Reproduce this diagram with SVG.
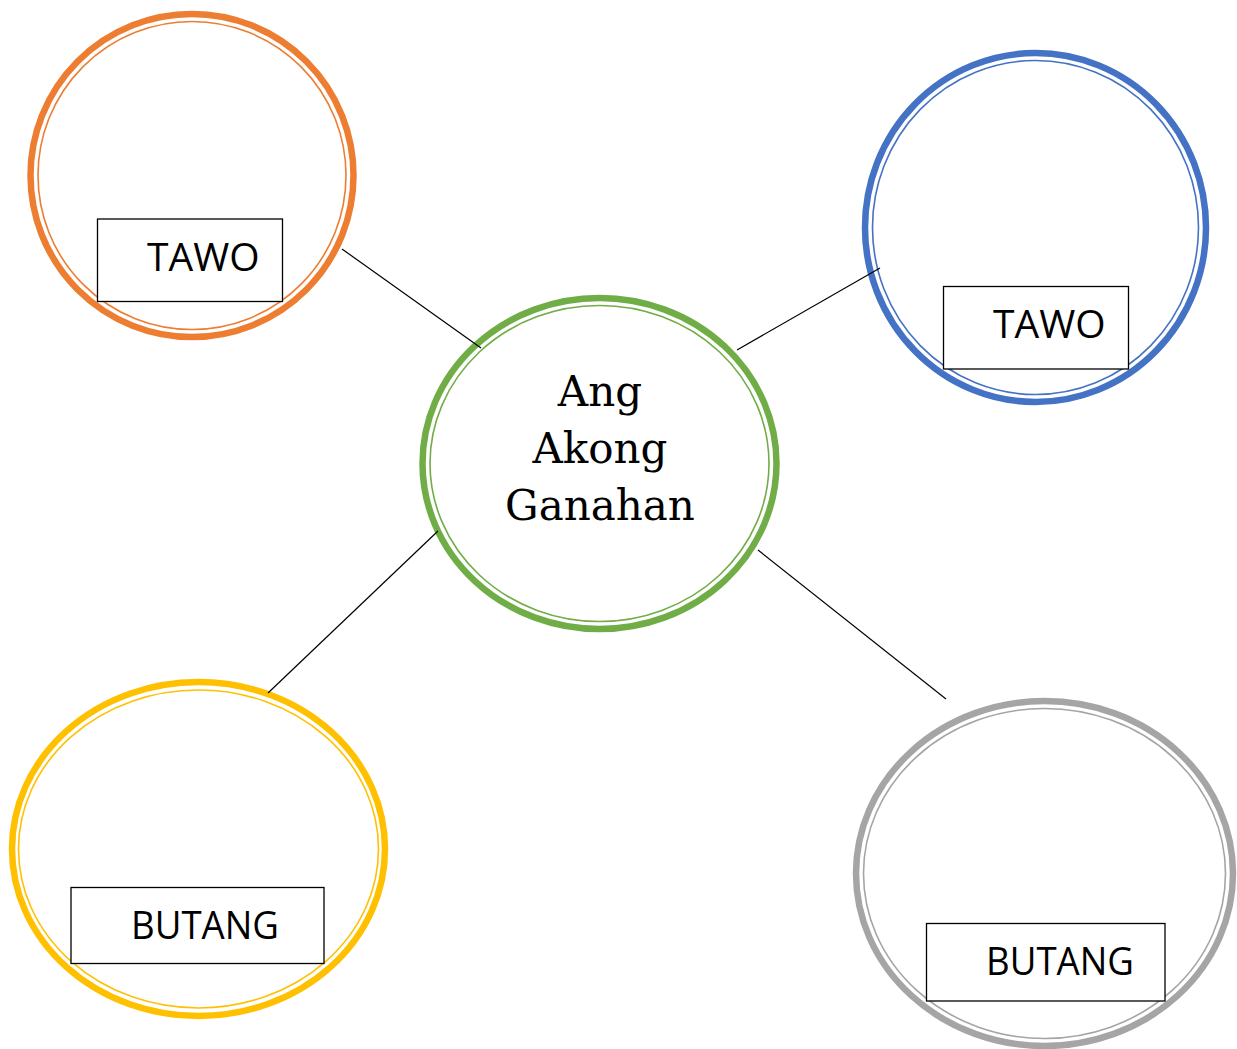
<svg xmlns="http://www.w3.org/2000/svg" width="1237" height="1049" viewBox="0 0 1237 1049">
<style>
.thick{fill:#fff;stroke-width:6.5}
.thin{fill:none;stroke-width:1.6}
.box{fill:#fff;stroke:#000;stroke-width:1.3}
.lbl{font-family:"Open Sans","Noto Sans",sans-serif;font-size:39px;fill:#000}
.ctr{font-family:"DejaVu Serif",serif;font-size:42px;fill:#000;text-anchor:middle}
.conn line{stroke:#000;stroke-width:1.2}
</style>
<rect width="1237" height="1049" fill="#fff"/>
<g id="orange">
<ellipse class="thick" stroke="#ED7D31" cx="192" cy="175.5" rx="161.5" ry="161.5"/>
<ellipse class="thin" stroke="#ED7D31" cx="192" cy="175.5" rx="154" ry="154"/>
<rect class="box" x="97.5" y="219" width="185" height="82.5"/>
<text class="lbl" x="147" y="271">TAWO</text>
</g>
<g id="blue">
<ellipse class="thick" stroke="#4472C4" cx="1035.5" cy="227.5" rx="170.5" ry="174.5"/>
<ellipse class="thin" stroke="#4472C4" cx="1035.5" cy="227.5" rx="163" ry="167"/>
<rect class="box" x="943.5" y="286.5" width="185" height="82.5"/>
<text class="lbl" x="993" y="338">TAWO</text>
</g>
<g id="center">
<ellipse class="thick" stroke="#70AD47" cx="599.5" cy="463.5" rx="177" ry="165.5"/>
<ellipse class="thin" stroke="#70AD47" cx="599.5" cy="463.5" rx="169.5" ry="158"/>
<text class="ctr" x="600" y="406">Ang</text>
<text class="ctr" x="600" y="463">Akong</text>
<text class="ctr" x="600" y="520">Ganahan</text>
</g>
<g id="yellow">
<ellipse class="thick" stroke="#FFC000" cx="198.5" cy="849" rx="186.5" ry="167"/>
<ellipse class="thin" stroke="#FFC000" cx="198.5" cy="849" rx="180" ry="159"/>
<rect class="box" x="71" y="887.5" width="253" height="76"/>
<text class="lbl" x="131" y="939" textLength="148" lengthAdjust="spacingAndGlyphs">BUTANG</text>
</g>
<g id="gray">
<ellipse class="thick" stroke="#A5A5A5" cx="1044.5" cy="873.5" rx="188.5" ry="172.5"/>
<ellipse class="thin" stroke="#A5A5A5" cx="1044.5" cy="873.5" rx="181" ry="165"/>
<rect class="box" x="926.5" y="923.5" width="238.5" height="77.5"/>
<text class="lbl" x="986" y="975" textLength="148" lengthAdjust="spacingAndGlyphs">BUTANG</text>
</g>
<g id="connectors" class="conn">
<line x1="342" y1="249" x2="481" y2="348"/>
<line x1="880" y1="268" x2="737" y2="350"/>
<line x1="438" y1="531" x2="268" y2="693"/>
<line x1="758" y1="550" x2="946" y2="699"/>
</g>
</svg>
